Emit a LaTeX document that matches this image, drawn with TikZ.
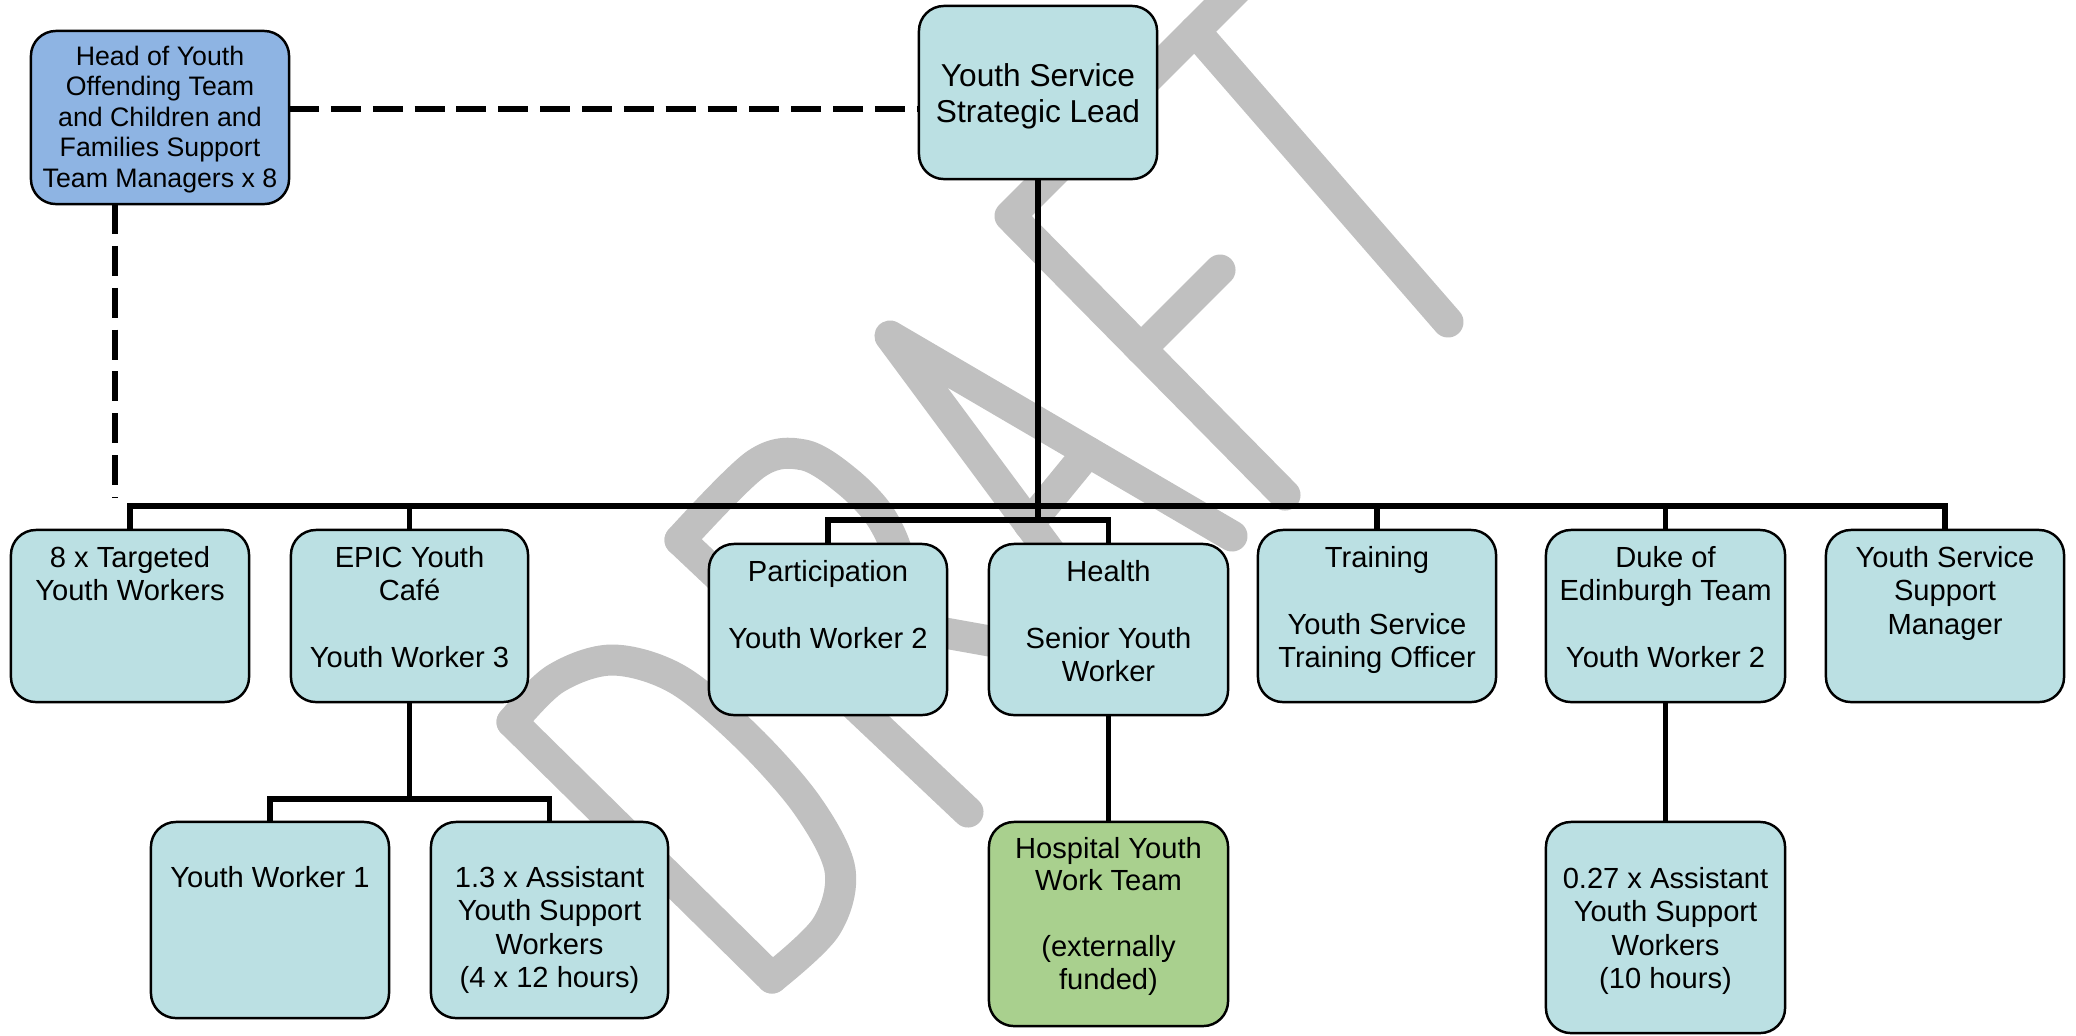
\documentclass[tikz,border=0pt]{standalone}
\usepackage{fontspec}
\setmainfont{Liberation Sans}
\definecolor{boxblue}{RGB}{187,224,227}
\definecolor{headblue}{RGB}{142,180,227}
\definecolor{boxgreen}{RGB}{169,208,142}
\definecolor{wmgrey}{RGB}{192,192,192}
\newcommand{\orglines}[2]{\parbox[t]{#1}{\centering #2}}
\tikzset{
  orgbox/.style={draw=black, line width=0.7pt, rounded corners=0.25cm, fill=boxblue, inner sep=0pt, outer sep=0pt},
  conn/.style={line width=1.45pt, black},
  dashconn/.style={line width=1.6pt, black, dash pattern=on 8.5pt off 3.4pt},
  wm/.style={line width=0.31cm, wmgrey, line cap=round, line join=round},
  lbl/.style={inner sep=0pt, anchor=base, font=\fontsize{8.28}{9.53}\selectfont},
}
\begin{document}
\begin{tikzpicture}[x=0.01cm, y=-0.01cm]
\useasboundingbox (0,0) rectangle (2076,1035);
\fill[white] (0,0) rectangle (2076,1035);

% watermark
\begin{scope}
\clip (0,0) rectangle (2076,1035);
% D
\draw[wm] (512,722) -- (772,978);
\draw[wm] plot[smooth, tension=0.55] coordinates {(512,722) (555,679) (612,660) (677,679) (746,736) (807,805) (840,870) (826,927) (772,978)};
% R
\draw[wm] (680,540) -- (968,812);
\draw[wm] plot[smooth, tension=0.55] coordinates {(680,540) (756,464) (804,455) (848,482) (882,519) (899,565) (885,614) (832,674)};
\draw[wm] (878,621) -- (1118,664);
% A
\draw[wm] (1130,660) -- (890,336) -- (1232,536);
\draw[wm] (1029,524) -- (1088,452);
% F
\draw[wm] (1285,495) -- (1010,216) -- (1330,-104);
\draw[wm] (1141,349) -- (1220,270);
% T
\draw[wm] (1195,31) -- (1448,322);
\end{scope}

% boxes
\node[orgbox, fill=headblue, minimum width=2.58cm, minimum height=1.73cm] (head) at (160,117.5) {};
\node[orgbox, minimum width=2.38cm, minimum height=1.73cm] (sl) at (1038,92.5) {};
\node[orgbox, minimum width=2.38cm, minimum height=1.72cm] (tyw) at (130,616) {};
\node[orgbox, minimum width=2.37cm, minimum height=1.72cm] (epic) at (409.5,616) {};
\node[orgbox, minimum width=2.38cm, minimum height=1.71cm] (part) at (828,629.5) {};
\node[orgbox, minimum width=2.39cm, minimum height=1.71cm] (hlth) at (1108.5,629.5) {};
\node[orgbox, minimum width=2.38cm, minimum height=1.72cm] (trn) at (1377,616) {};
\node[orgbox, minimum width=2.39cm, minimum height=1.72cm] (duke) at (1665.5,616) {};
\node[orgbox, minimum width=2.38cm, minimum height=1.72cm] (yssm) at (1945,616) {};
\node[orgbox, minimum width=2.38cm, minimum height=1.96cm] (yw1) at (270,920) {};
\node[orgbox, minimum width=2.37cm, minimum height=1.96cm] (asst) at (549.5,920) {};
\node[orgbox, fill=boxgreen, minimum width=2.39cm, minimum height=2.04cm] (hosp) at (1108.5,924) {};
\node[orgbox, minimum width=2.39cm, minimum height=2.11cm] (dasst) at (1665.5,927.5) {};

% texts
\node[lbl, font=\fontsize{7.6}{8.7}\selectfont] (headT) at (160,65) {\orglines{2.5cm}{Head of Youth\\Offending Team\\and Children and\\Families Support\\Team Managers x 8}};
\node[lbl, font=\fontsize{9.0}{10.5}\selectfont] (slT) at (1038,86) {\orglines{2.3cm}{Youth Service\\Strategic Lead}};
\node[lbl] (tywT) at (130,567) {\orglines{2.3cm}{8 x Targeted\\Youth Workers}};
\node[lbl] (epicT) at (409.5,567) {\orglines{2.3cm}{EPIC Youth\\Café\\[\baselineskip]Youth Worker 3}};
\node[lbl] (partT) at (828,581) {\orglines{2.3cm}{Participation\\[\baselineskip]Youth Worker 2}};
\node[lbl] (hlthT) at (1108.5,581) {\orglines{2.3cm}{Health\\[\baselineskip]Senior Youth\\Worker}};
\node[lbl] (trnT) at (1377,567) {\orglines{2.35cm}{Training\\[\baselineskip]Youth Service\\Training Officer}};
\node[lbl] (dukeT) at (1665.5,567) {\orglines{2.35cm}{Duke of\\Edinburgh Team\\[\baselineskip]Youth Worker 2}};
\node[lbl] (yssmT) at (1945,567) {\orglines{2.3cm}{Youth Service\\Support\\Manager}};
\node[lbl] (yw1T) at (270,887) {\orglines{2.3cm}{Youth Worker 1}};
\node[lbl] (asstT) at (549.5,887) {\orglines{2.3cm}{1.3 x Assistant\\Youth Support\\Workers\\(4 x 12 hours)}};
\node[lbl, font=\fontsize{8.28}{9.35}\selectfont] (hospT) at (1108.5,858) {\orglines{2.3cm}{Hospital Youth\\Work Team\\[\baselineskip](externally\\funded)}};
\node[lbl] (dasstT) at (1665.5,888) {\orglines{2.35cm}{0.27 x Assistant\\Youth Support\\Workers\\(10 hours)}};

% dashed connectors
\coordinate (dl) at (289,109);
\coordinate (dv) at (115,498);
\draw[dashconn] (head.east |- dl) -- (sl.west |- dl);
\draw[dashconn] (head.south -| dv) -- (dv);

% solid connectors
\coordinate (jbar) at (1038,520);
\draw[conn] (tyw.north) -- ++(0,-24) -| (yssm.north);
\draw[conn] (epic.north) -- ++(0,-24);
\draw[conn] (trn.north) -- ++(0,-24);
\draw[conn] (duke.north) -- ++(0,-24);
\draw[conn] (sl.south) -- (jbar);
\draw[conn] (part.north) -- ++(0,-24) -| (hlth.north);
\draw[conn] (epic.south) -- ++(0,97);
\draw[conn] (yw1.north) -- ++(0,-23) -| (asst.north);
\draw[conn] (hlth.south) -- (hosp.north);
\draw[conn] (duke.south) -- (dasst.north);
\end{tikzpicture}
\end{document}
